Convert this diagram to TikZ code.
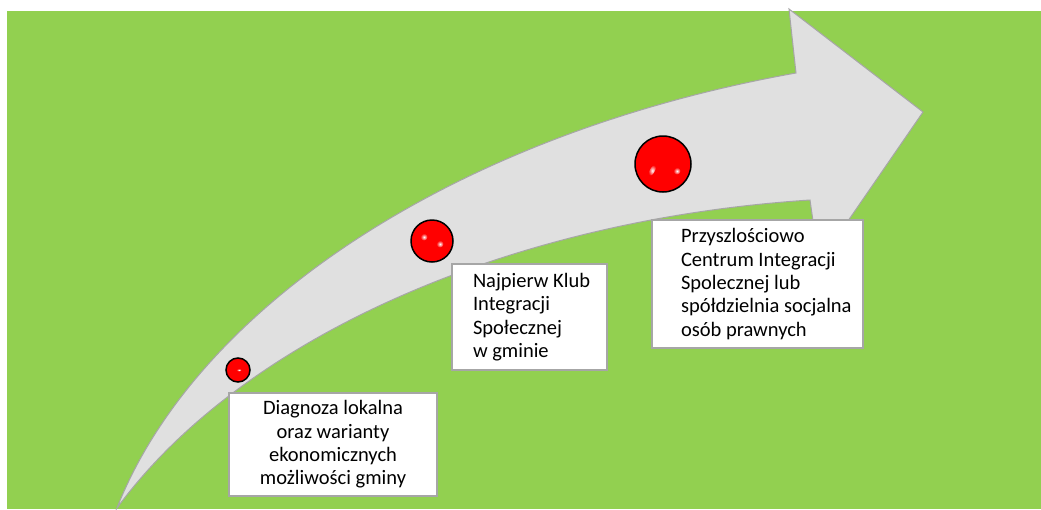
\documentclass[tikz,border=0pt]{standalone}
\usepackage{fontspec}
\setmainfont{Carlito}
\usepackage{tikz}
\usepackage{xcolor}
\definecolor{ColBg}{RGB}{146,208,80}
\definecolor{ColArrow}{RGB}{224,224,224}
\definecolor{ColEdge}{RGB}{166,166,166}
\pgfdeclareradialshading{RedBall}{\pgfpoint{0bp}{0bp}}{color(0bp)=(red);
  color(34bp)=(red); color(50bp)=(red!80!black); color(72bp)=(red!80!black)}
\tikzstyle{ArrowShape}=[fill=ColArrow,draw=ColEdge,line width=1pt,line join=miter]
\tikzstyle{BallNode}=[circle,draw=black,line width=1.5pt,shading=RedBall,inner sep=0pt]
\tikzstyle{Gloss}=[shading=radial,inner color=white,outer color=red]
\tikzstyle{TextBox}=[draw=ColEdge,fill=white,line width=2pt,anchor=north west,
inner xsep=0pt,inner ysep=0pt,font=\fontsize{20.5}{23.3}\selectfont]

\begin{document}
\begin{tikzpicture}[x=1pt,y=-1pt]
        \useasboundingbox(0,0)rectangle(1041,509);
        \fill[ColBg](7,11)rectangle(1041,509);
        \draw[ArrowShape](117,508)..controls(195,310)and(450,135)..(796,73)
            --(789,9)--(923,112)--(819,263)--(810,200)
            ..controls(505,220)and(240,340)..(117,508)--cycle;
        \node[BallNode,minimum size=24pt](a)at(238,370){};
        \node[BallNode,minimum size=42pt](b)at(432,241){};
        \node[BallNode,minimum size=56pt](c)at(663,164){};
        \shade[Gloss]([shift={(1,0)}]a.center)ellipse(2.5 and 1.5);
        \shade[Gloss]([shift={(-8,-4)}]b.center)circle(3.5);
        \shade[Gloss]([shift={(8,3)}]b.center)circle(3.5);
        \shade[Gloss,rotate around={60:([shift={(-11,-6)}]c.center)}]([shift={(-11,-6)}]c.center)ellipse(6 and 2.5);
        \shade[Gloss]([shift={(14,7)}]c.center)circle(3.5);
        \node[TextBox,text width=208pt,minimum height=103pt,align=flush center](ta)at(228,392)
            {Diagnoza lokalna\\oraz warianty\\ekonomicznych\\możliwości gminy};
        \node[TextBox,text width=155pt,minimum height=106pt,align=flush left,execute at begin node={\leftskip=21pt}](tb)at(451,263)
            {Najpierw Klub\\Integracji\\Społecznej\\w gminie};
        \node[TextBox,text width=211pt,minimum height=128pt,align=flush left,execute at begin node={\leftskip=29pt}](tc)at(651,219)
            {Przyszlościowo\\Centrum Integracji\\Spolecznej lub\\spółdzielnia socjalna\\osób prawnych};
    \end{tikzpicture}
\end{document}
